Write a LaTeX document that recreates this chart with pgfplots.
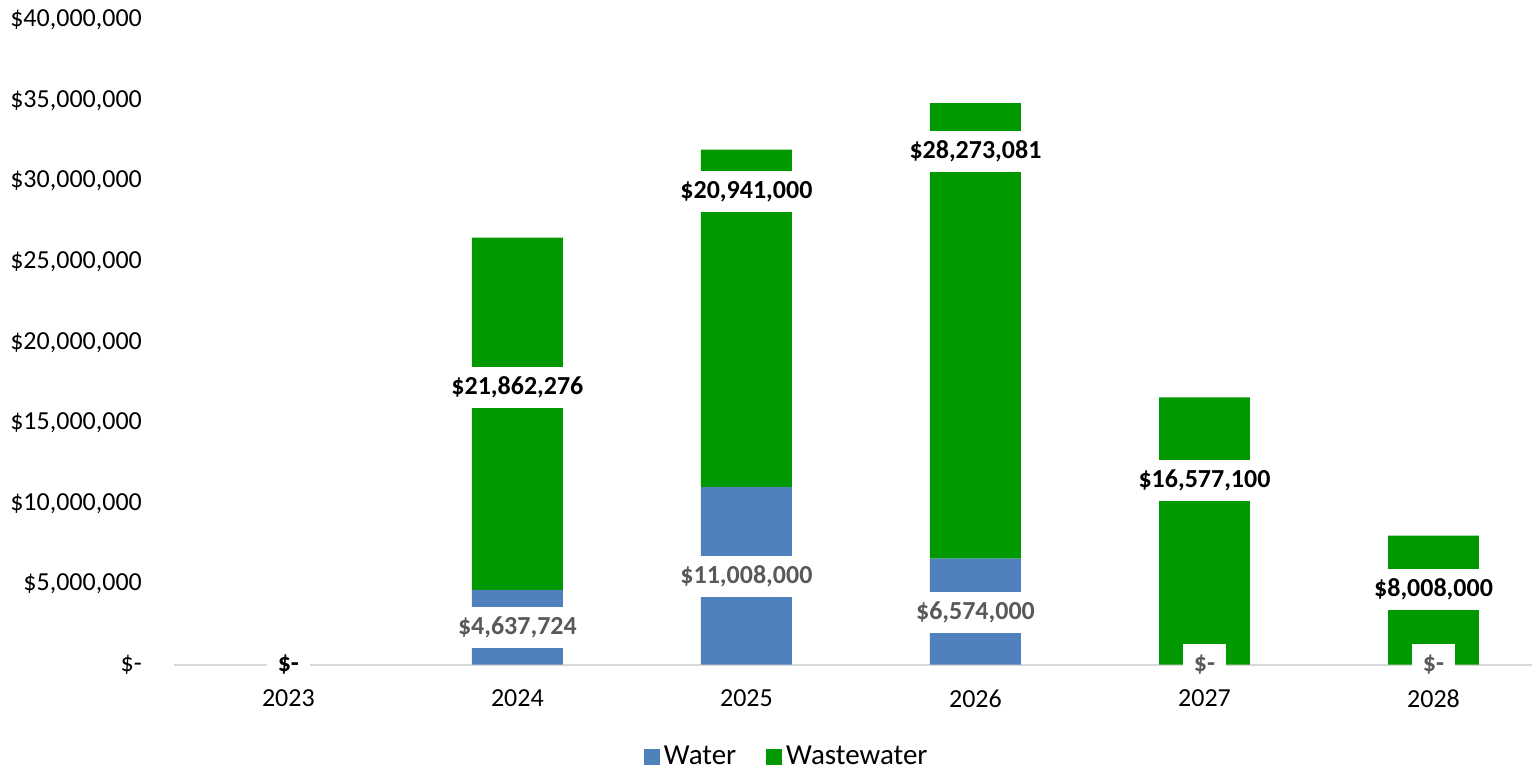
\documentclass[border=0pt]{standalone}
\usepackage{pgfplots}
\pgfplotsset{compat=1.18}
\usepackage{fontspec}
\setmainfont{Carlito}
\definecolor{waterc}{RGB}{79,129,189}
\definecolor{wastec}{RGB}{0,153,0}
\definecolor{lblgray}{RGB}{89,89,89}
\definecolor{axisgray}{RGB}{217,217,217}
\begin{document}
\begin{tikzpicture}
\begin{axis}[
  scale only axis,
  width=679.5pt, height=322.5pt,
  ybar stacked, bar width=45.5pt,
  xmin=-0.5, xmax=5.43,
  ymin=0, ymax=40000000,
  clip=false,
  axis lines=left,
  axis line style={-},
  x axis line style={draw=axisgray, line width=1pt},
  y axis line style={draw=none},
  major tick length=0pt,
  xtick=data,
  xticklabels={2023,2024,2025,2026,2027,2028},
  ytick={0,5000000,10000000,15000000,20000000,25000000,30000000,35000000,40000000},
  yticklabels={{\$-},{\$5,000,000},{\$10,000,000},{\$15,000,000},{\$20,000,000},{\$25,000,000},{\$30,000,000},{\$35,000,000},{\$40,000,000}},
  scaled y ticks=false,
  ticklabel style={font=\fontsize{13}{15}\selectfont, text=black},
  yticklabel style={xshift=-12.5pt},
  xticklabel style={yshift=-9pt},
  legend style={at={(axis description cs:0.452,-0.143)}, anchor=center, draw=none,
    legend columns=2, font=\fontsize{14.5}{17}\selectfont,
    /tikz/every even column/.append style={column sep=13pt},
    nodes={inner xsep=2pt}},
  legend image code/.code={\fill[#1] (0pt,-4pt) rectangle (8pt,4pt);},
]
\addplot[fill=waterc, draw=none] coordinates {(0,0) (1,4637724) (2,11008000) (3,6574000) (4,0) (5,0)};
\addlegendentry{Water}
\addplot[fill=wastec, draw=none] coordinates {(0,0) (1,21862276) (2,20941000) (3,28273081) (4,16577100) (5,8008000)};
\addlegendentry{Wastewater}

\path (axis description cs:-0.128,-0.1643) rectangle (axis description cs:1,1.031);

\coordinate (w1) at (axis cs:1,2300000);
\coordinate (w2) at (axis cs:2,5490000);
\coordinate (w3) at (axis cs:3,3250000);
\coordinate (w4) at (axis cs:4,0);
\coordinate (w5) at (axis cs:5,0);
\coordinate (s0) at (axis cs:0,0);
\coordinate (s1) at (axis cs:1,17200000);
\coordinate (s2) at (axis cs:2,29360000);
\coordinate (s3) at (axis cs:3,31840000);
\coordinate (s4) at (axis cs:4,11440000);
\coordinate (s5) at (axis cs:5,4680000);
\end{axis}
\tikzset{wl/.style={fill=white, text=lblgray, font=\bfseries\fontsize{13}{15}\selectfont, inner xsep=5.5pt, inner ysep=4.25pt, text height=9.5pt, text depth=2.5pt},
  ww/.style={fill=white, text=black, font=\bfseries\fontsize{13}{15}\selectfont, inner xsep=5.5pt, inner ysep=4.25pt, text height=9.5pt, text depth=2.5pt}}
\node[wl] at (w1) {\$4,637,724};
\node[wl] at (w2) {\$11,008,000};
\node[wl] at (w3) {\$6,574,000};
\node[wl] at (w4) {\$-};
\node[wl] at (w5) {\$-};
\node[ww] at (s0) {\$-};
\node[ww] at (s1) {\$21,862,276};
\node[ww] at (s2) {\$20,941,000};
\node[ww] at (s3) {\$28,273,081};
\node[ww] at (s4) {\$16,577,100};
\node[ww] at (s5) {\$8,008,000};
\end{tikzpicture}
\end{document}
